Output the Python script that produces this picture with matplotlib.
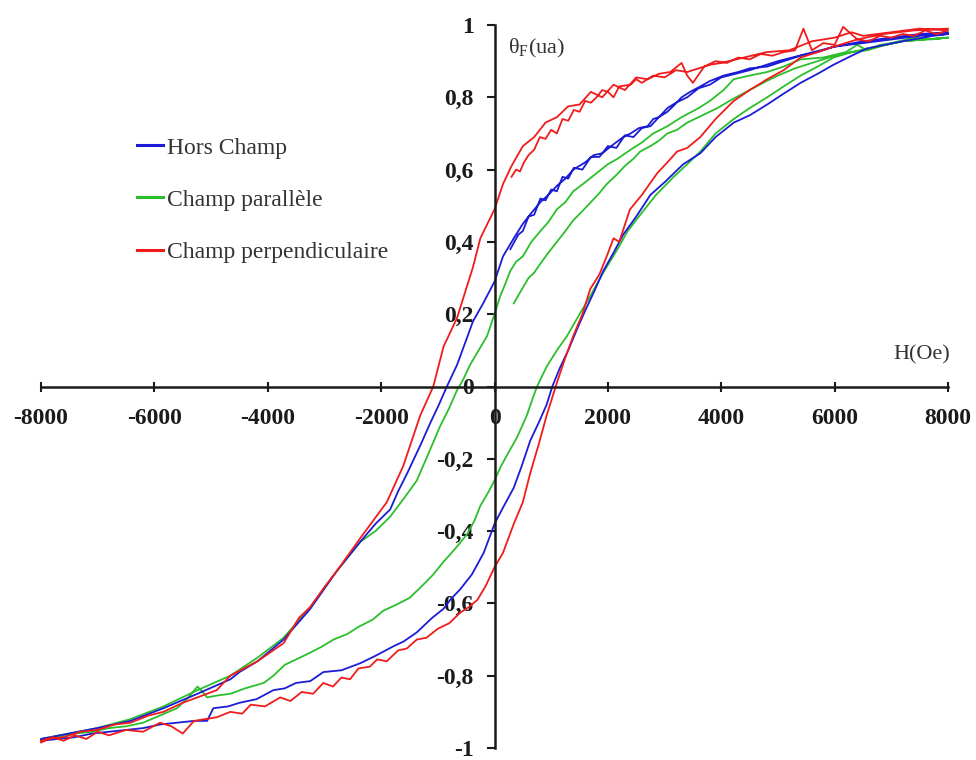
import numpy as np
import matplotlib.pyplot as plt

plt.rcParams['font.family'] = ['Liberation Serif', 'DejaVu Serif']

# (H [Oe], theta_F [ua]), one list per branch
# red = champ perpendiculaire
red_init = [(300, 0.58), (380, 0.60), (450, 0.595), (520, 0.62), (600, 0.64), (700, 0.655), (800, 0.69),
            (900, 0.685), (1000, 0.71), (1100, 0.70), (1200, 0.74), (1300, 0.735), (1400, 0.765), (1500, 0.76),
            (1600, 0.79), (1700, 0.785), (1800, 0.80), (1900, 0.82), (2000, 0.815), (2100, 0.80), (2200, 0.83),
            (2400, 0.835), (2500, 0.85), (2600, 0.84), (2800, 0.86), (3000, 0.855), (3200, 0.875), (3400, 0.87),
            (3600, 0.88), (3800, 0.89), (4000, 0.895), (4400, 0.91), (4800, 0.925), (5200, 0.93), (5600, 0.955),
            (5800, 0.96), (6000, 0.965), (6300, 0.98), (6500, 0.97), (7000, 0.98), (7500, 0.99), (8000, 0.985)]
red_down = [(8000, 0.985), (7800, 0.975), (7600, 0.985), (7400, 0.97), (7200, 0.975), (7000, 0.965), (6800, 0.97),
            (6600, 0.955), (6400, 0.96), (6150, 0.995), (6000, 0.945), (5800, 0.95), (5600, 0.93), (5450, 0.99),
            (5300, 0.93), (5100, 0.925), (4900, 0.915), (4700, 0.92), (4500, 0.905), (4300, 0.91), (4100, 0.895),
            (3900, 0.90), (3700, 0.885), (3500, 0.84), (3400, 0.86), (3300, 0.895), (3100, 0.87), (2900, 0.865),
            (2700, 0.85), (2500, 0.855), (2300, 0.82), (2100, 0.835), (1900, 0.80), (1700, 0.815), (1500, 0.78),
            (1300, 0.775), (1100, 0.745), (900, 0.73), (700, 0.69), (500, 0.665), (300, 0.61), (150, 0.56),
            (0, 0.49), (-250, 0.41), (-380, 0.33), (-660, 0.19), (-900, 0.11), (-1080, 0.0), (-1310, -0.08),
            (-1610, -0.22), (-1900, -0.32), (-2370, -0.42), (-2780, -0.51), (-3000, -0.555), (-3250, -0.61),
            (-3450, -0.64), (-3720, -0.71), (-4180, -0.76), (-4660, -0.80), (-4900, -0.84), (-5240, -0.86),
            (-5500, -0.875), (-5840, -0.90), (-6100, -0.91), (-6420, -0.93), (-6700, -0.935), (-7010, -0.95),
            (-7300, -0.955), (-7600, -0.97), (-7890, -0.975), (-8000, -0.98)]
red_up = [(-8000, -0.985), (-7800, -0.97), (-7600, -0.98), (-7400, -0.965), (-7200, -0.975), (-7000, -0.955),
          (-6800, -0.965), (-6500, -0.95), (-6200, -0.955), (-5900, -0.93), (-5700, -0.94), (-5500, -0.96),
          (-5300, -0.925), (-5100, -0.92), (-4900, -0.915), (-4660, -0.90), (-4450, -0.905), (-4300, -0.88),
          (-4050, -0.885), (-3780, -0.86), (-3600, -0.87), (-3400, -0.845), (-3200, -0.85), (-3020, -0.82),
          (-2850, -0.83), (-2700, -0.805), (-2550, -0.81), (-2400, -0.78), (-2200, -0.775), (-2070, -0.755),
          (-1900, -0.76), (-1700, -0.73), (-1550, -0.725), (-1370, -0.70), (-1200, -0.695), (-1000, -0.67),
          (-800, -0.655), (-600, -0.625), (-450, -0.61), (-300, -0.59), (-150, -0.55), (0, -0.50), (150, -0.46),
          (340, -0.38), (500, -0.32), (630, -0.24), (780, -0.16), (920, -0.08), (1100, 0.01), (1250, 0.08),
          (1390, 0.14), (1550, 0.20), (1690, 0.27), (1850, 0.31), (1980, 0.36), (2100, 0.41), (2200, 0.40),
          (2390, 0.49), (2600, 0.53), (2870, 0.59), (3050, 0.62), (3220, 0.65), (3400, 0.66), (3630, 0.69),
          (3900, 0.74), (4220, 0.79), (4500, 0.82), (4810, 0.85), (5100, 0.875), (5400, 0.91), (5700, 0.925),
          (5980, 0.94), (6400, 0.96), (6860, 0.975), (7400, 0.985), (8000, 0.99)]

# blue = hors champ
blue_init = [(280, 0.38), (350, 0.40), (420, 0.42), (500, 0.43), (600, 0.47), (700, 0.475), (810, 0.52),
             (900, 0.515), (1000, 0.545), (1100, 0.54), (1200, 0.58), (1300, 0.575), (1400, 0.605), (1550, 0.60),
             (1700, 0.635), (1850, 0.635), (2000, 0.665), (2150, 0.66), (2300, 0.695), (2450, 0.69), (2600, 0.715),
             (2750, 0.72), (2900, 0.745), (3050, 0.77), (3200, 0.785), (3400, 0.80), (3600, 0.825), (3800, 0.835),
             (4000, 0.855), (4500, 0.875), (5000, 0.90), (5500, 0.92), (6000, 0.94), (6500, 0.955), (7000, 0.965),
             (7500, 0.975), (8000, 0.98)]
blue_down = [(8000, 0.975), (7500, 0.97), (7000, 0.96), (6500, 0.95), (5980, 0.94), (5700, 0.925), (5400, 0.915),
             (5100, 0.90), (4810, 0.885), (4500, 0.88), (4300, 0.87), (4040, 0.86), (3800, 0.845), (3630, 0.83),
             (3450, 0.815), (3300, 0.80), (3150, 0.775), (3050, 0.76), (2900, 0.745), (2800, 0.74), (2700, 0.72),
             (2550, 0.715), (2400, 0.70), (2270, 0.69), (2100, 0.67), (1900, 0.645), (1750, 0.64), (1600, 0.62),
             (1390, 0.60), (1250, 0.575), (1100, 0.555), (950, 0.53), (810, 0.51), (650, 0.48), (500, 0.45),
             (340, 0.41), (150, 0.36), (0, 0.29), (-200, 0.23), (-380, 0.18), (-520, 0.12), (-660, 0.06),
             (-840, 0.0), (-980, -0.05), (-1130, -0.10), (-1300, -0.16), (-1540, -0.24), (-1700, -0.29),
             (-1840, -0.34), (-2100, -0.38), (-2370, -0.43), (-2780, -0.51), (-3250, -0.615), (-3720, -0.70),
             (-4180, -0.76), (-4500, -0.79), (-4660, -0.81), (-5240, -0.85), (-5840, -0.89), (-6420, -0.925),
             (-7010, -0.945), (-7500, -0.96), (-8000, -0.975)]
blue_up = [(-8000, -0.98), (-7700, -0.975), (-7400, -0.97), (-7100, -0.96), (-6800, -0.955), (-6500, -0.95),
           (-6200, -0.945), (-5900, -0.935), (-5600, -0.93), (-5300, -0.925), (-5070, -0.925), (-4960, -0.89),
           (-4700, -0.885), (-4500, -0.875), (-4200, -0.865), (-3900, -0.84), (-3700, -0.835), (-3500, -0.82),
           (-3250, -0.815), (-3020, -0.79), (-2700, -0.785), (-2360, -0.765), (-2100, -0.745), (-1800, -0.72),
           (-1600, -0.705), (-1370, -0.68), (-1100, -0.64), (-900, -0.615), (-780, -0.59), (-600, -0.56),
           (-400, -0.52), (-190, -0.46), (0, -0.38), (150, -0.335), (340, -0.28), (480, -0.22), (630, -0.15),
           (780, -0.10), (920, -0.05), (1020, 0.0), (1150, 0.05), (1300, 0.10), (1460, 0.16), (1600, 0.21),
           (1750, 0.26), (1920, 0.32), (2100, 0.37), (2270, 0.42), (2500, 0.47), (2750, 0.53), (3000, 0.565),
           (3330, 0.615), (3630, 0.645), (3900, 0.69), (4220, 0.73), (4500, 0.75), (4810, 0.78), (5100, 0.81),
           (5400, 0.84), (5700, 0.865), (5980, 0.89), (6300, 0.915), (6570, 0.935), (7200, 0.955), (7740, 0.97),
           (8000, 0.975)]

# green = champ parallele
green_init = [(340, 0.23), (450, 0.26), (600, 0.30), (700, 0.315), (810, 0.34), (950, 0.37), (1100, 0.40),
              (1250, 0.43), (1390, 0.46), (1550, 0.485), (1700, 0.51), (1850, 0.535), (1980, 0.56), (2150, 0.585),
              (2300, 0.61), (2450, 0.63), (2570, 0.65), (2750, 0.665), (2900, 0.68), (3050, 0.70), (3220, 0.71),
              (3400, 0.73), (3600, 0.745), (3800, 0.76), (3930, 0.77), (4200, 0.795), (4500, 0.82), (4800, 0.845),
              (5000, 0.86), (5300, 0.88), (5500, 0.89), (5800, 0.905), (6000, 0.915), (6300, 0.925), (6570, 0.93),
              (6900, 0.945), (7200, 0.955), (7600, 0.96), (8000, 0.965)]
green_down = [(8000, 0.965), (7700, 0.96), (7400, 0.965), (7000, 0.95), (6800, 0.945), (6570, 0.93), (6400, 0.945),
              (6200, 0.925), (5800, 0.91), (5400, 0.905), (5100, 0.885), (4810, 0.87), (4500, 0.86), (4220, 0.85),
              (4040, 0.82), (3800, 0.79), (3600, 0.77), (3300, 0.745), (3050, 0.72), (2800, 0.70), (2600, 0.675),
              (2400, 0.655), (2170, 0.63), (2000, 0.615), (1800, 0.59), (1600, 0.565), (1390, 0.54), (1250, 0.51),
              (1100, 0.49), (950, 0.455), (810, 0.43), (650, 0.40), (500, 0.36), (380, 0.345), (280, 0.32),
              (180, 0.28), (100, 0.25), (0, 0.20), (-130, 0.14), (-280, 0.10), (-430, 0.06), (-550, 0.02),
              (-660, -0.01), (-800, -0.06), (-960, -0.11), (-1150, -0.18), (-1370, -0.26), (-1600, -0.31),
              (-1840, -0.36), (-2100, -0.40), (-2370, -0.43), (-2780, -0.51), (-3250, -0.61), (-3720, -0.695),
              (-4180, -0.75), (-4660, -0.80), (-5240, -0.84), (-5840, -0.885), (-6420, -0.92), (-7010, -0.945),
              (-7500, -0.96), (-8000, -0.975)]
green_up = [(-8000, -0.975), (-7700, -0.97), (-7400, -0.96), (-7100, -0.955), (-6800, -0.945), (-6500, -0.94),
            (-6200, -0.93), (-5900, -0.91), (-5600, -0.89), (-5400, -0.86), (-5240, -0.83), (-5150, -0.845),
            (-5070, -0.86), (-4900, -0.855), (-4660, -0.85), (-4400, -0.835), (-4070, -0.82), (-3900, -0.80),
            (-3700, -0.77), (-3500, -0.755), (-3300, -0.74), (-3050, -0.72), (-2840, -0.70), (-2600, -0.685),
            (-2400, -0.665), (-2150, -0.645), (-1960, -0.62), (-1750, -0.605), (-1500, -0.585), (-1300, -0.555),
            (-1080, -0.52), (-900, -0.485), (-700, -0.45), (-490, -0.41), (-350, -0.37), (-250, -0.33),
            (-100, -0.29), (0, -0.26), (100, -0.225), (220, -0.19), (400, -0.14), (570, -0.08), (680, -0.03),
            (750, 0.0), (920, 0.055), (1100, 0.10), (1280, 0.14), (1500, 0.20), (1690, 0.25), (1900, 0.31),
            (2170, 0.38), (2350, 0.43), (2570, 0.475), (2850, 0.53), (3160, 0.58), (3400, 0.615), (3630, 0.65),
            (3900, 0.70), (4220, 0.74), (4500, 0.77), (4810, 0.80), (5100, 0.83), (5400, 0.86), (5700, 0.885),
            (5980, 0.91), (6300, 0.925), (6570, 0.935), (6900, 0.945), (7200, 0.955), (7600, 0.96), (8000, 0.965)]

x_ticks = [-8000, -6000, -4000, -2000, 0, 2000, 4000, 6000, 8000]
y_ticks = [-1, -0.8, -0.6, -0.4, -0.2, 0, 0.2, 0.4, 0.6, 0.8, 1]
y_labels = ['-1', '-0,8', '-0,6', '-0,4', '-0,2', '0', '0,2', '0,4', '0,6', '0,8', '1']

series = [
    ('Hors Champ', '#1c1cd6', 3, [blue_init, blue_down, blue_up]),
    ('Champ parallèle', '#2cbf2c', 2, [green_init, green_down, green_up]),
    ('Champ perpendiculaire', '#f01c1c', 4, [red_init, red_down, red_up]),
]

fig = plt.figure(figsize=(9.76, 7.6), dpi=100)
ax = fig.add_axes([41 / 976, 12 / 760, 907 / 976, 723 / 760])

for name, color, z, parts in series:
    pts = np.array([p for part in parts for p in part])
    ax.plot(pts[:, 0], pts[:, 1], color=color, lw=1.3, label=name, zorder=z, clip_on=False)

ax.set_xlim(-8000, 8000)
ax.set_ylim(-1, 1)
for s in ['top', 'right']:
    ax.spines[s].set_visible(False)
for s in ['left', 'bottom']:
    ax.spines[s].set_position(('data', 0))
    ax.spines[s].set_linewidth(1.8)
    ax.spines[s].set_color('#1a1a1a')
    ax.spines[s].set_zorder(5)

ax.set_xticks(x_ticks)
ax.set_xticklabels([str(v) for v in x_ticks], fontweight='bold', fontsize=17)
ax.set_yticks(y_ticks)
ax.set_yticklabels(y_labels, fontweight='bold', fontsize=17)
ax.tick_params(axis='x', direction='inout', length=7, width=1.5, pad=12, colors='#1a1a1a')
ax.tick_params(axis='y', direction='out', length=6, width=1.5, pad=9, colors='#1a1a1a')

ax.text(230, 0.935, 'θ$_\\mathregular{F}$(ua)', fontsize=16, va='center', ha='left', color='#333333')
ax.text(8030, 0.088, 'H(Oe)', fontsize=16, va='center', ha='right', color='#333333')

leg = ax.legend(loc='upper left', bbox_to_anchor=(137 / 976, 1 - 137 / 760), bbox_transform=fig.transFigure,
                frameon=False, fontsize=17, handlelength=1.1, handletextpad=0.15, labelspacing=1.3,
                borderpad=0, borderaxespad=0)
for line in leg.get_lines():
    line.set_linewidth(2.2)
for t in leg.get_texts():
    t.set_color('#333333')

fig.savefig('out.png', dpi=100)
